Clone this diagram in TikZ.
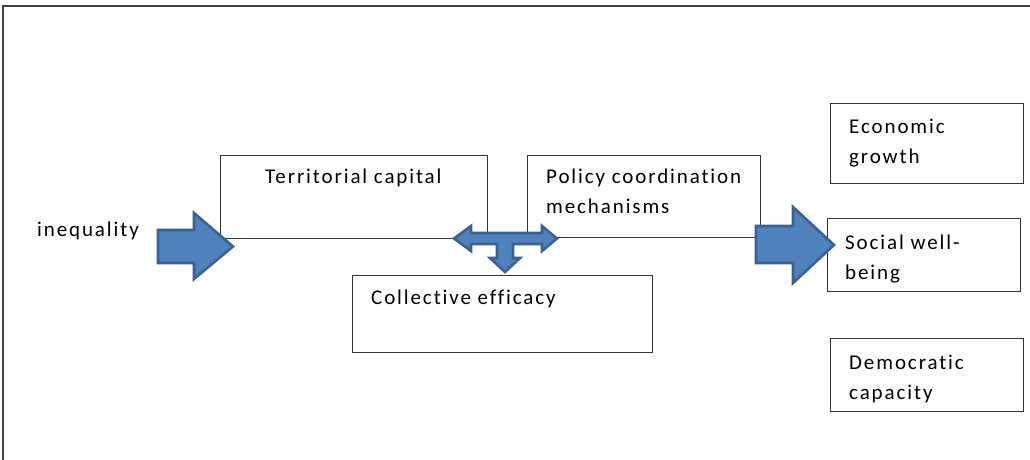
\documentclass[tikz,border=0pt]{standalone}
\usepackage{fontspec}
\setmainfont{Carlito}[LetterSpace=9,Ligatures=NoCommon]
\usepackage{tikz}

\definecolor{arrfill}{HTML}{4F81BD}
\definecolor{arrline}{HTML}{3A6191}

\begin{document}
\begin{tikzpicture}[x=1pt,y=-1pt,
 box/.style={draw=black!80,line width=0.9pt,anchor=north west,inner sep=0pt},
 txt/.style={anchor=base west,inner sep=0pt,align=left,font=\fontsize{21}{30}\selectfont},
 blk/.style={fill=arrfill,draw=arrline,line width=2.6pt,line join=miter}]
\useasboundingbox (0,0) rectangle (1030,460);
% frame
\draw[black!75,line width=1.3pt] (3,460) -- (3,6) -- (1030,6);
% boxes
\node[box,minimum width=267pt,minimum height=83pt] (terr) at (220,155) {};
\node[box,minimum width=233pt,minimum height=82pt] (pol) at (527,155) {};
\node[box,minimum width=300pt,minimum height=77pt] (coll) at (352,275) {};
\node[box,minimum width=193pt,minimum height=80pt] (econ) at (830,103) {};
\node[box,minimum width=193pt,minimum height=73pt] (soc) at (827,218) {};
\node[box,minimum width=193pt,minimum height=73pt] (dem) at (830,338) {};
% texts (base = last line)
\node[txt] (ineqT) at (37,236) {inequality};
\node[txt] (terrT) at (265,183) {Territorial capital};
\node[txt] (polT) at (546,213) {Policy coordination\\mechanisms};
\node[txt] (collT) at (371,304) {Collective efficacy};
\node[txt] (econT) at (849,163) {Economic\\growth};
\node[txt] (socT) at (845,279) {Social well-\\being};
\node[txt] (demT) at (849,399) {Democratic\\capacity};
% block arrows
\draw[blk] (158,230) -- (194,230) -- (194,213) -- (233,246.5) -- (194,279)
 -- (194,263) -- (158,263) -- cycle;
\draw[blk] (756,226) -- (793,226) -- (793,207) -- (834,245) -- (793,283)
 -- (793,263) -- (756,263) -- cycle;
\draw[blk] (454,238.5) -- (471,226) -- (471,233) -- (542,233) -- (542,226)
 -- (557,238.5) -- (542,251) -- (542,244) -- (513,244) -- (513,258)
 -- (520,258) -- (505,272) -- (490,258) -- (497,258) -- (497,244)
 -- (471,244) -- (471,251) -- cycle;
\end{tikzpicture}
\end{document}
